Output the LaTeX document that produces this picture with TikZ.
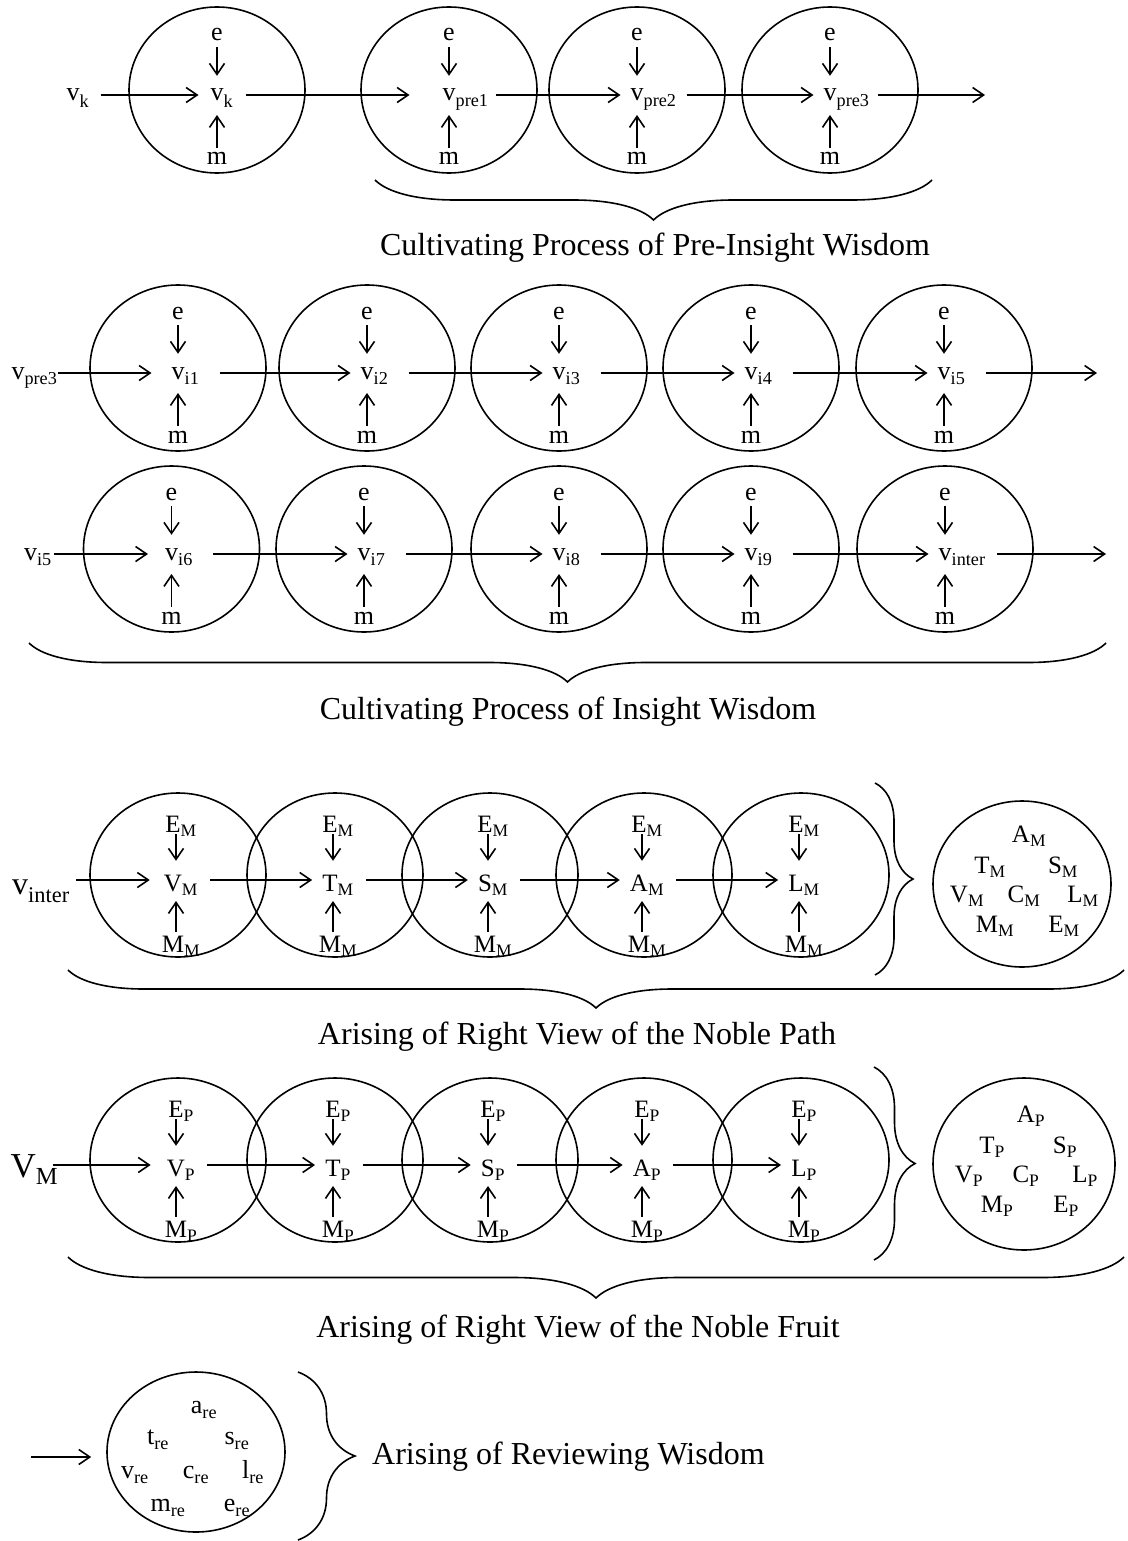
\documentclass[tikz,border=0pt]{standalone}
\usepackage{fontspec}
\setmainfont{Liberation Serif}
\usetikzlibrary{arrows.meta,decorations.pathreplacing,shapes.geometric}
\newcommand{\low}[1]{\raisebox{-2pt}{\textsubscript{#1}}}

\begin{document}
\begin{tikzpicture}[x=1pt,y=-1pt,
    ring/.style={line width=1.6pt},
    flow/.style={line width=1.6pt,-{Straight Barb[length=11pt,width=15pt]}},
    lab/.style={inner sep=0pt,font=\fontsize{26}{26}\selectfont,text height=12pt,text depth=0pt},
    caplab/.style={inner sep=0pt,font=\fontsize{25}{25}\selectfont,text height=17pt,text depth=0pt},
    title/.style={inner sep=0pt,font=\fontsize{32}{32}\selectfont},
    hbrace/.style={line width=1.6pt,decorate,decoration={brace,amplitude=#1,transform={yscale=0.5}}},
    vbrace/.style={line width=1.6pt,decorate,decoration={brace,amplitude=#1}}]
  \useasboundingbox (0,0) rectangle (1127,1541);

  % Pre-insight wisdom
  \foreach \n/\cx in {k/217,pre1/449,pre2/637,pre3/830} {
    \draw[ring] (\cx,90) ellipse [x radius=88pt,y radius=83pt];
    \node[lab,anchor=base west] (\n) at (\cx-6.5,101) {v\low{\n}};
    \node[lab] (e\n) at (\cx,35) {e};
    \node[lab] (m\n) at (\cx,159) {m};
    \draw[flow,shorten <=6pt,shorten >=13pt] (e\n.south) -- (e\n.south |- \n.north);
    \draw[flow,shorten <=5pt,shorten >=14pt] (m\n.north) -- (m\n.north |- \n.base);
  }
  \node[lab] (vk) at (78,95) {v\low{k}};
  \draw[flow,shorten <=11pt,shorten >=12pt] (vk.east |- k.west) -- (k.west);
  \draw[flow,shorten <=12pt,shorten >=33pt] (k.east) -- (pre1.west);
  \draw[flow,shorten <=7pt,shorten >=10pt] (pre1.east) -- (pre2.west);
  \draw[flow,shorten <=10pt,shorten >=10pt] (pre2.east) -- (pre3.west);
  \coordinate (out1) at (985,95);
  \draw[flow,shorten <=8pt] (pre3.east) -- (out1);
  \draw[hbrace=80pt] (932,180) -- (375,180);
  \node[title] (t1) at (655,248) {Cultivating Process of Pre-Insight Wisdom};

  % Insight wisdom, first row
  \foreach \n/\cx in {i1/178,i2/367,i3/559,i4/751,i5/944} {
    \draw[ring] (\cx,368) ellipse [x radius=88pt,y radius=83pt];
    \node[lab,anchor=base west] (\n) at (\cx-6.5,379) {v\low{\n}};
    \node[lab] (e\n) at (\cx,313) {e};
    \node[lab] (m\n) at (\cx,437) {m};
    \draw[flow,shorten <=6pt,shorten >=13pt] (e\n.south) -- (e\n.south |- \n.north);
    \draw[flow,shorten <=5pt,shorten >=14pt] (m\n.north) -- (m\n.north |- \n.base);
  }
  \node[lab] (vpre) at (34.5,373) {v\low{pre3}};
  \draw[flow,shorten >=20pt] (vpre.east |- i1.west) -- (i1.west);
  \foreach \a/\b in {i1/i2,i2/i3,i3/i4,i4/i5}
    \draw[flow,shorten <=20pt,shorten >=10pt] (\a.east) -- (\b.west);
  \coordinate (out2) at (1097,373);
  \draw[flow,shorten <=20pt] (i5.east) -- (out2);

  % Insight wisdom, second row
  \foreach \n/\cx in {i6/171.5,i7/364,i8/559,i9/751,inter/945} {
    \draw[ring] (\cx,549) ellipse [x radius=88pt,y radius=83pt];
    \node[lab,anchor=base west] (\n) at (\cx-6.5,560) {v\low{\n}};
    \node[lab] (e\n) at (\cx,494) {e};
    \node[lab] (m\n) at (\cx,618) {m};
    \draw[flow,shorten <=6pt,shorten >=13pt] (e\n.south) -- (e\n.south |- \n.north);
    \draw[flow,shorten <=5pt,shorten >=14pt] (m\n.north) -- (m\n.north |- \n.base);
  }
  \node[lab] (vi) at (38,554) {v\low{i5}};
  \draw[flow,shorten <=2pt,shorten >=17pt] (vi.east |- i6.west) -- (i6.west);
  \foreach \a/\b in {i6/i7,i7/i8,i8/i9,i9/inter}
    \draw[flow,shorten <=20pt,shorten >=10pt] (\a.east) -- (\b.west);
  \coordinate (out3) at (1106,554);
  \draw[flow,shorten <=11pt] (inter.east) -- (out3);
  \draw[hbrace=78pt] (1106,643) -- (29,643);
  \node[title] (t2) at (568,712) {Cultivating Process of Insight Wisdom};

  % Noble path
  \foreach \l/\cx in {V/178,T/335,S/490,A/644,L/801} {
    \draw[ring] (\cx,875) ellipse [x radius=88pt,y radius=82pt];
    \coordinate (x\l4) at (\cx-2,875);
    \node[caplab,text height=23pt,anchor=base] (\l4) at (\cx+3,891.5) {\l\textsubscript{M}};
    \node[caplab] (e\l4) at (\cx+3,824) {E\textsubscript{M}};
    \node[caplab] (m\l4) at (\cx+3,944) {M\textsubscript{M}};
    \draw[flow,shorten <=1.5pt,shorten >=7.5pt] (e\l4.south -| x\l4) -- (\l4.north -| x\l4);
    \draw[flow,shorten <=3.5pt,shorten >=9.5pt] (m\l4.north -| x\l4) -- (\l4.base -| x\l4);
  }
  \node[lab,font=\fontsize{32}{32}\selectfont,anchor=base] (vin) at (41,894) {v\low{inter}};
  \draw[flow,shorten <=6pt,shorten >=14pt] (vin.east |- V4.west) -- (V4.west);
  \foreach \a/\b in {V4/T4,T4/S4,S4/A4,A4/L4}
    \draw[flow,shorten <=12pt,shorten >=10pt] (\a.east) -- (\b.west);
  \draw[vbrace=38pt] (875,783) -- (875,975);
  \draw[ring] (1022,884) ellipse [x radius=89pt,y radius=83pt];
  \foreach \l/\dx/\dy in {A/7/-50,T/-32/-19,S/41/-19,V/-55/10,C/2/10,L/61/10,M/-27/40,E/42/40}
    \node[caplab] (s\l4) at (1022+\dx,884+\dy) {\l\textsubscript{M}};
  \draw[hbrace=76pt] (1124,970) -- (68,970);
  \node[title] (t3) at (577,1037) {Arising of Right View of the Noble Path};

  % Noble fruit
  \foreach \l/\cx in {V/178,T/335,S/490,A/644,L/801} {
    \draw[ring] (\cx,1160) ellipse [x radius=88pt,y radius=82pt];
    \coordinate (x\l5) at (\cx-2,1160);
    \node[caplab,text height=23pt,anchor=base] (\l5) at (\cx+3,1176.5) {\l\textsubscript{P}};
    \node[caplab] (e\l5) at (\cx+3,1109) {E\textsubscript{P}};
    \node[caplab] (m\l5) at (\cx+3,1229) {M\textsubscript{P}};
    \draw[flow,shorten <=1.5pt,shorten >=7.5pt] (e\l5.south -| x\l5) -- (\l5.north -| x\l5);
    \draw[flow,shorten <=3.5pt,shorten >=9.5pt] (m\l5.north -| x\l5) -- (\l5.base -| x\l5);
  }
  \node[lab,font=\fontsize{35}{35}\selectfont,anchor=base] (vm) at (34.5,1177) {V\textsubscript{M}};
  \draw[flow,shorten <=-5pt,shorten >=16pt] (vm.east |- V5.west) -- (V5.west);
  \foreach \a/\b in {V5/T5,T5/S5,S5/A5,A5/L5}
    \draw[flow,shorten <=12pt,shorten >=10pt] (\a.east) -- (\b.west);
  \draw[vbrace=41pt] (874,1067) -- (874,1260);
  \draw[ring] (1024,1164) ellipse [x radius=91pt,y radius=86pt];
  \foreach \l/\dx/\dy in {A/7/-50,T/-32/-19,S/41/-19,V/-55/10,C/2/10,L/61/10,M/-27/40,E/42/40}
    \node[caplab] (s\l5) at (1024+\dx,1164+\dy) {\l\textsubscript{P}};
  \draw[hbrace=82pt] (1124,1257) -- (68,1257);
  \node[title] (t4) at (578,1330) {Arising of Right View of the Noble Fruit};

  % Reviewing wisdom
  \node[ellipse,draw,ring,minimum width=178pt,minimum height=160pt] (rev) at (196,1452) {};
  \foreach \l/\dx/\dy in {a/8/-45,t/-38/-14,s/41/-14,v/-61/20,c/0/20,l/57/20,m/-28/53,e/41/53}
    \node[lab] (r\l) at (196+\dx,1452+\dy) {\l\low{re}};
  \coordinate (revin) at (31,1457);
  \draw[flow,shorten >=15pt] (revin) -- (revin -| rev.west);
  \draw[vbrace=57pt] (298,1372) -- (298,1540);
  \node[title,anchor=west] (t5) at (372,1457) {Arising of Reviewing Wisdom};
\end{tikzpicture}
\end{document}
